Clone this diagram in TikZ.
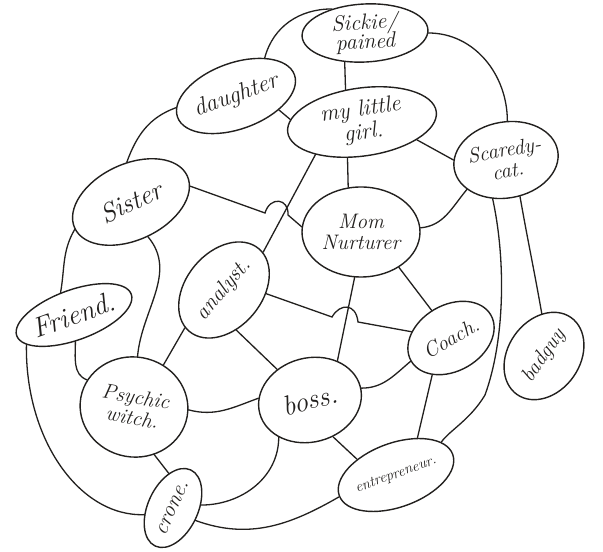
\documentclass[tikz,border=0pt]{standalone}
\usetikzlibrary{shapes.geometric}
\definecolor{ink}{RGB}{34,32,30}
\newcommand\hf[1]{\itshape\fontsize{#1}{#1}\selectfont}
\begin{document}
\begin{tikzpicture}[x=1pt,y=1pt,
  bub/.style={ellipse, draw=ink, line width=1.4pt, inner sep=0pt, align=center, font={\hf{20}}, text=ink},
  link/.style={draw=ink, line width=1.3pt, line cap=round}]
\useasboundingbox[fill=white] (0,0) rectangle (603,552);
% nodes
\node[bub, minimum width=126pt, minimum height=58pt, rotate=3, font={\hf{22}}] (sickie) at (365,519) {Sickie/\\[-3pt]pained};
\node[bub, minimum width=150pt, minimum height=68pt, rotate=8, font={\hf{23}}] (girl) at (362,430) {my little\\girl.};
\node[bub, minimum width=124pt, minimum height=66pt, rotate=20, font={\hf{24}}] (daughter) at (236,456) {daughter};
\node[bub, minimum width=102pt, minimum height=76pt, rotate=10, font={\hf{21}}] (scaredy) at (506,392) {Scaredy-\\cat.};
\node[bub, minimum width=118pt, minimum height=90pt, font={\hf{21}}] (mom) at (361,320) {Mom\\Nurturer};
\node[bub, minimum width=124pt, minimum height=76pt, rotate=25, font={\hf{27}}] (sister) at (131,350) {Sister};
\node[bub, minimum width=108pt, minimum height=76pt, rotate=50, font={\hf{22}}] (analyst) at (224,262) {analyst.};
\node[bub, minimum width=116pt, minimum height=50pt, rotate=20, font={\hf{28}}] (friend) at (74,237) {Friend.};
\node[bub, minimum width=108pt, minimum height=100pt, rotate=-10, font={\hf{21}}] (witch) at (134,145) {Psychic\\witch.};
\node[bub, minimum width=104pt, minimum height=84pt, rotate=15, font={\hf{28}}] (boss) at (310,152) {boss.};
\node[bub, minimum width=92pt, minimum height=66pt, rotate=30, font={\hf{21}}] (coach) at (451,214) {Coach.};
\node[bub, minimum width=94pt, minimum height=72pt, rotate=55, font={\hf{21}}] (badguy) at (544,196) {badguy};
\node[bub, minimum width=104pt, minimum height=64pt, rotate=20, font={\hf{15}}] (entre) at (396,77) {entrepreneur.};
\node[bub, minimum width=84pt, minimum height=50pt, rotate=65, font={\hf{22}}] (crone) at (173,44) {crone.};
% connectors
\draw[link] (daughter.33) to[out=75,in=180] (sickie.141);
\draw[link] (sickie.232) -- (girl.109);
\draw[link] (daughter.-38) -- (girl.170);
\draw[link] (daughter.171) to[out=200,in=70] (sister.71);
\draw[link] (sickie.-3) to[out=0,in=90] (scaredy.78);
\draw[link] (girl.-26) -- (scaredy.170);
\draw[link] (girl.240) -- (mom.106);
\draw[link] (mom.4) to[out=5,in=230] (scaredy.207);
\draw[link] (scaredy.241) .. controls (506,292) and (505,212) .. (485,157) .. controls (470,132) and (450,122) .. (entre.16);
\draw[link] (scaredy.-79) to[out=-80,in=100] (badguy.38);
\draw[link] (sister.-10) -- (265,339) .. controls (270,356) and (289,354) .. (288,337) -- (mom.175);
\draw[link] (analyst.-6) -- (girl.207);
\draw[link] (sister.181) to[out=240,in=80] (friend.101);
\draw[link] (sister.-89) to[out=-50,in=85] (witch.96);
\draw[link] (friend.-107) to[out=-90,in=160] (witch.160);
\draw[link] (friend.192) .. controls (25,112) and (80,35) .. (crone.128);
\draw[link] (witch.65) -- (analyst.174);
\draw[link] (witch.7) to[out=-15,in=200] (boss.163);
\draw[link] (witch.-57) -- (crone.32);
\draw[link] (analyst.-123) -- (boss.122);
\draw[link] (analyst.-55) -- (332,235) .. controls (340,249) and (356,249) .. (358,230) -- (coach.141);
\draw[link] (mom.262) -- (boss.40);
\draw[link] (mom.-43) -- (coach.95);
\draw[link] (boss.-2) to[out=0,in=220] (coach.180);
\draw[link] (boss.-73) -- (entre.138);
\draw[link] (coach.213) -- (entre.40);
\draw[link] (boss.215) to[out=-90,in=0] (crone.-59);
\draw[link] (crone.-94) to[out=-20,in=210] (entre.181);
\end{tikzpicture}
\end{document}
